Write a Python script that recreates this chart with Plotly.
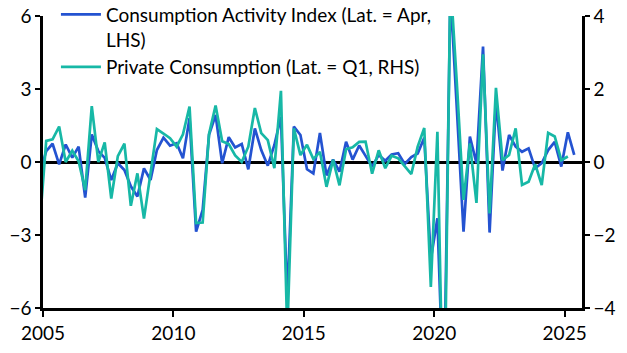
import pandas as pd
import plotly.graph_objects as go

# Quarterly observations (Q4 2004 .. Q2 2025 for CAI, .. Q1 2025 for consumption)
cai_values = [
    -0.5, 0.45, 0.75, -0.1, 0.72, 0.18, 0.63, -1.46, 1.13, 0.45, 0.17, -0.74,
    -0.05, -0.33, -1.0, -1.42, -0.26, -0.74, 0.49, 1.0, 0.67, 0.77, 0.15, 1.8,
    -2.86, -1.97, 1.12, 1.93, -0.05, 1.02, 0.6, 0.74, -0.3, 1.38, 0.49, -0.15,
    0.7, 1.86, -5.7, 1.46, 1.11, -0.3, -0.47, 1.19, -0.55, 0.1, -0.4, 0.83,
    0.1, 0.68, 0.25, -0.2, 0.29, 0.05, 0.31, 0.36, -0.08, 0.2, 0.35, 1.0,
    -4.0, -2.31, -10.0, 7.0, 2.1, -2.86, 1.04, -0.05, 4.74, -2.9, 2.5, -0.35,
    1.11, 0.63, 0.42, 0.56, -0.26, -0.05, 0.49, 0.83, -0.19, 1.22, 0.29,
]
pc_values = [
    -1.75, 0.58, 0.62, 0.97, 0.0, 0.31, 0.02, -0.77, 1.53, 0.0, 0.54, -1.0,
    0.16, 0.5, -1.2, -0.31, -1.55, -0.35, 0.9, 0.78, 0.65, 0.42, 0.76, 1.52,
    -1.67, -1.66, 0.77, 1.55, 0.57, 0.49, 0.18, 0.0, 0.42, 1.48, 0.79, 0.6,
    -0.17, 1.95, -4.7, 0.92, 0.19, 0.47, 0.08, 0.28, -0.68, 0.06, -0.64, 0.35,
    0.4, 0.55, 0.56, -0.32, 0.32, -0.17, 0.17, 0.1, -0.13, -0.33, 0.42, 0.93,
    -3.42, 0.83, -8.0, 5.0, 2.1, -1.04, 0.51, -1.12, 2.95, -1.41, 2.03, 0.05,
    0.19, 0.92, -0.63, -0.54, -0.06, -0.63, 0.8, 0.7, 0.05, 0.15,
]
cai_dates = pd.date_range("2004-11-01", periods=len(cai_values), freq="3MS") + pd.Timedelta(days=14)
pc_dates = pd.date_range("2004-11-01", periods=len(pc_values), freq="3MS") + pd.Timedelta(days=14)

cai_name = "Consumption Activity Index (Lat. = Apr,<br>LHS)"
pc_name = "Private Consumption (Lat. = Q1, RHS)"

left_ticks = [-6, -3, 0, 3, 6]
right_ticks = [-4, -2, 0, 2, 4]
year_ticks = ["2005-01-01", "2010-01-01", "2015-01-01", "2020-01-01", "2025-01-01"]
year_labels = ["2005", "2010", "2015", "2020", "2025"]

BLUE = "#2453D1"
TEAL = "#17B8A6"
FONT = "Lato"
FS = 19

fig = go.Figure()
fig.add_trace(go.Scatter(x=cai_dates, y=cai_values, name=cai_name, mode="lines",
                         line=dict(color=BLUE, width=2.7), yaxis="y"))
fig.add_trace(go.Scatter(x=pc_dates, y=pc_values, name=pc_name, mode="lines",
                         line=dict(color=TEAL, width=2.7), yaxis="y2"))

fig.update_layout(
    width=627, height=353,
    margin=dict(l=43, r=45, t=16, b=45, autoexpand=False),
    paper_bgcolor="white", plot_bgcolor="white",
    font=dict(family=FONT, size=FS, color="black"),
    showlegend=True,
    legend=dict(x=0.024, y=1.07, xanchor="left", yanchor="top",
                bgcolor="rgba(0,0,0,0)", font=dict(size=FS, family=FONT),
                valign="top", itemwidth=40),
    xaxis=dict(range=["2005-01-01", "2025-09-01"], tickvals=year_ticks, ticktext=year_labels,
               showgrid=False, zeroline=False, showline=True, linecolor="black", linewidth=2.5,
               ticks="outside", ticklen=6, tickwidth=2, tickcolor="black",
               tickfont=dict(size=FS, family=FONT)),
    yaxis=dict(range=[-6, 6], tickvals=left_ticks, showgrid=False,
               zeroline=True, zerolinecolor="black", zerolinewidth=2.5,
               showline=True, linecolor="black", linewidth=2.5,
               ticks="outside", ticklen=5, tickwidth=2, tickcolor="black",
               tickfont=dict(size=FS, family=FONT)),
    yaxis2=dict(range=[-4, 4], tickvals=right_ticks, overlaying="y", side="right",
                showgrid=False, zeroline=False,
                showline=True, linecolor="black", linewidth=2.5,
                ticks="outside", ticklen=5, tickwidth=2, tickcolor="black",
                tickfont=dict(size=FS, family=FONT)),
)

fig.write_html("out.html")
